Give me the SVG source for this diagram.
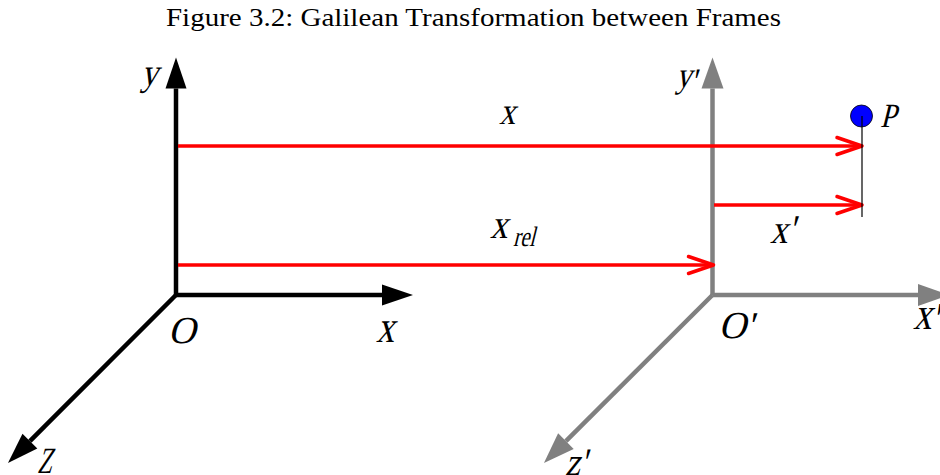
<svg xmlns="http://www.w3.org/2000/svg" width="940" height="475" viewBox="0 0 940 475">
  <style>
    text { font-family: 'Liberation Serif', 'Times New Roman', serif; fill: #000; }
    .title { font-size: 25px; }
    .lbl { font-style: normal; }
    .axis-k { stroke: #000; stroke-width: 4.5; fill: none; }
    .axis-g { stroke: #808080; stroke-width: 4.5; fill: none; }
    .vec { stroke: #ff0000; stroke-width: 3.3; fill: none; }
  </style>
  <defs>
    <marker id="headK" markerUnits="userSpaceOnUse" viewBox="0 0 31 21" refX="0" refY="10.5" markerWidth="31" markerHeight="21" orient="auto" overflow="visible">
      <path d="M0,0 L31,10.5 L0,21 Z" fill="#000"/>
    </marker>
    <marker id="headG" markerUnits="userSpaceOnUse" viewBox="0 0 31 22" refX="0" refY="11" markerWidth="31" markerHeight="22" orient="auto" overflow="visible">
      <path d="M0,0 L31,11 L0,22 Z" fill="#808080"/>
    </marker>
    <marker id="chev" markerUnits="userSpaceOnUse" viewBox="0 0 26 18" refX="25" refY="9" markerWidth="26" markerHeight="18" orient="auto" overflow="visible">
      <path d="M0,0.5 L25,9 L0,17.5" fill="none" stroke="#ff0000" stroke-width="3.5" stroke-linejoin="round" stroke-linecap="round"/>
    </marker>
  </defs>

  <rect width="940" height="475" fill="#fff"/>

  <text class="title" x="166" y="26" textLength="615" lengthAdjust="spacingAndGlyphs">Figure 3.2: Galilean Transformation between Frames</text>

  <g id="frame-S">
    <line class="axis-k" x1="176" y1="295" x2="176" y2="88.5" marker-end="url(#headK)"/>
    <line class="axis-k" x1="176" y1="295" x2="382" y2="295" marker-end="url(#headK)"/>
    <line class="axis-k" x1="176" y1="295" x2="29.9" y2="441.1" marker-end="url(#headK)"/>
    <text class="lbl" font-size="38" transform="translate(141,85) skewX(-14) scale(0.89,1)">y</text>
    <text class="lbl" font-size="38" transform="translate(168,343) skewX(-14)">O</text>
    <text class="lbl" font-size="45" transform="translate(376,342) skewX(-14) scale(0.8,1)">x</text>
    <text class="lbl" font-size="37" transform="translate(37,473) skewX(-14) scale(0.65,1)">Z</text>
  </g>

  <g id="frame-S-prime">
    <line class="axis-g" x1="712.5" y1="295" x2="712.5" y2="88.5" marker-end="url(#headG)"/>
    <line class="axis-g" x1="712.5" y1="295" x2="918" y2="295" marker-end="url(#headG)"/>
    <line class="axis-g" x1="712.5" y1="295" x2="565.9" y2="441.1" marker-end="url(#headG)"/>
    <text class="lbl" font-size="36" transform="translate(676,87) skewX(-14) scale(0.85,1)">y<tspan dy="6">'</tspan></text>
    <text class="lbl" font-size="38" transform="translate(718.5,338) skewX(-14)">O'</text>
    <text class="lbl" font-size="46" transform="translate(913,329) skewX(-14) scale(0.8,1)">x<tspan dy="5">'</tspan></text>
    <text class="lbl" font-size="39" transform="translate(565,475) skewX(-14) scale(0.85,1)">z'</text>
  </g>

  <g id="connectors">
    <line class="vec" x1="178" y1="146" x2="862" y2="146" marker-end="url(#chev)"/>
    <line class="vec" x1="714" y1="205" x2="862" y2="205" marker-end="url(#chev)"/>
    <line class="vec" x1="178" y1="265" x2="713.5" y2="265" marker-end="url(#chev)"/>
    <text class="lbl" font-size="38" transform="translate(499,124) skewX(-14) scale(0.85,1)">x</text>
    <text class="lbl" font-size="41" transform="translate(490,238) skewX(-14) scale(0.85,1)">x</text>
    <text class="lbl" font-size="28" transform="translate(513,246) skewX(-14) scale(0.74,1)">rel</text>
    <text class="lbl" font-size="41" transform="translate(770,243) skewX(-14) scale(0.85,1)">x'</text>
  </g>

  <g id="point-P">
    <circle cx="861.5" cy="116" r="11" fill="#0000ff" stroke="#000" stroke-width="0.8"/>
    <line x1="862" y1="116" x2="862" y2="217" stroke="#000" stroke-width="1.2"/>
    <text class="lbl" font-size="34" transform="translate(880,127) skewX(-14) scale(0.85,1)">P</text>
  </g>
</svg>
